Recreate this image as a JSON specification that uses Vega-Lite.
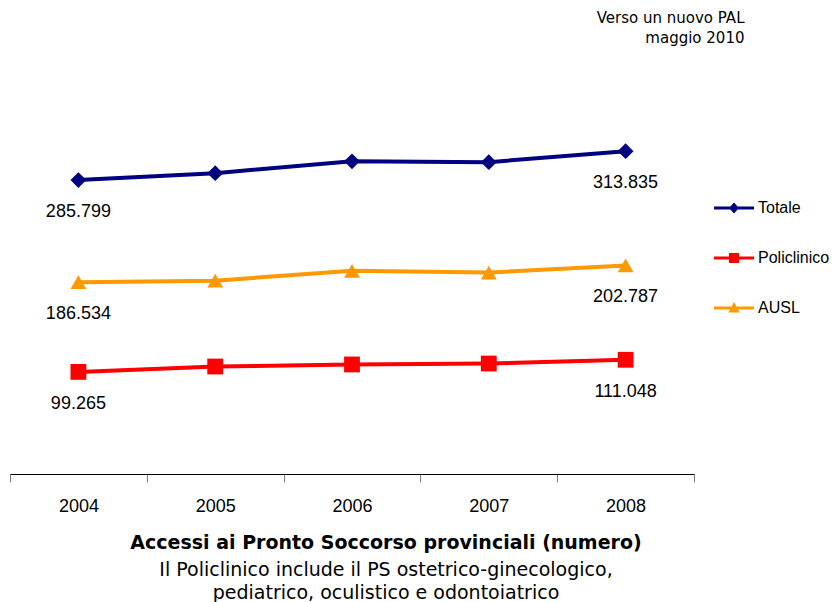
{
  "$schema": "https://vega.github.io/schema/vega-lite/v6.json",
  "width": 684,
  "height": 360,
  "autosize": {"type": "none"},
  "padding": {"left": 10, "top": 114, "right": 138, "bottom": 128},
  "background": "white",
  "title": {
    "text": "Accessi ai Pronto Soccorso provinciali (numero)",
    "subtitle": ["Il Policlinico include il PS ostetrico-ginecologico,", "pediatrico, oculistico e odontoiatrico"],
    "orient": "bottom",
    "anchor": "middle",
    "frame": "group",
    "dx": 34,
    "offset": 19,
    "font": "DejaVu Sans",
    "fontSize": 19,
    "fontWeight": "bold",
    "color": "black",
    "subtitleFont": "DejaVu Sans",
    "subtitleFontSize": 19,
    "subtitleFontWeight": "normal",
    "subtitleColor": "black",
    "subtitleLineHeight": 22.5,
    "subtitlePadding": 8
  },
  "data": {
    "values": [
      {"anno": "2004", "serie": "Totale", "valore": 285799},
      {"anno": "2005", "serie": "Totale", "valore": 292500},
      {"anno": "2006", "serie": "Totale", "valore": 304000},
      {"anno": "2007", "serie": "Totale", "valore": 303200},
      {"anno": "2008", "serie": "Totale", "valore": 313835},
      {"anno": "2004", "serie": "Policlinico", "valore": 99265},
      {"anno": "2005", "serie": "Policlinico", "valore": 104500},
      {"anno": "2006", "serie": "Policlinico", "valore": 106500},
      {"anno": "2007", "serie": "Policlinico", "valore": 107400},
      {"anno": "2008", "serie": "Policlinico", "valore": 111048},
      {"anno": "2004", "serie": "AUSL", "valore": 186534},
      {"anno": "2005", "serie": "AUSL", "valore": 188000},
      {"anno": "2006", "serie": "AUSL", "valore": 197500},
      {"anno": "2007", "serie": "AUSL", "valore": 195800},
      {"anno": "2008", "serie": "AUSL", "valore": 202787}
    ]
  },
  "encoding": {
    "x": {
      "field": "anno",
      "type": "ordinal",
      "scale": {"paddingInner": 0, "paddingOuter": 0},
      "axis": {
        "title": null,
        "labelAngle": 0,
        "labelFont": "Liberation Sans",
        "labelFontSize": 18,
        "labelColor": "black",
        "labelPadding": 15,
        "tickBand": "extent",
        "tickSize": 8,
        "tickColor": "#808080",
        "tickWidth": 1,
        "domainColor": "black",
        "domainWidth": 1,
        "grid": false
      }
    },
    "y": {
      "field": "valore",
      "type": "quantitative",
      "scale": {"domain": [0, 350000], "nice": false, "zero": true},
      "axis": {
        "title": ["Verso un nuovo PAL", "maggio 2010"],
        "titleAngle": 0,
        "titleAlign": "right",
        "titleBaseline": "alphabetic",
        "titleX": 734,
        "titleY": -92,
        "titleFont": "DejaVu Sans",
        "titleFontSize": 15,
        "titleFontWeight": "normal",
        "titleColor": "black",
        "titleLineHeight": 20,
        "labels": false,
        "ticks": false,
        "domain": false,
        "grid": false
      }
    },
    "color": {
      "field": "serie",
      "type": "nominal",
      "scale": {"domain": ["Totale", "Policlinico", "AUSL"], "range": ["#000080", "#FF0000", "#FF9900"]},
      "legend": {
        "title": null,
        "orient": "none",
        "legendX": 704,
        "legendY": 74,
        "padding": 0,
        "symbolSize": 1600,
        "symbolStrokeWidth": 0,
        "symbolOpacity": 1,
        "symbolOffset": 0,
        "labelOffset": 4,
        "labelFont": "Liberation Sans",
        "labelFontSize": 16,
        "labelColor": "black",
        "rowPadding": 22,
        "encode": {
          "symbols": {
            "update": {
              "shape": {"signal": "datum.value === 'Totale' ? 'M-1,-0.075L1,-0.075L1,0.075L-1,0.075Z M0,-0.28L0.25,0L0,0.28L-0.25,0Z' : datum.value === 'Policlinico' ? 'M-1,-0.075L1,-0.075L1,0.075L-1,0.075Z M-0.25,-0.25L0.25,-0.25L0.25,0.25L-0.25,0.25Z' : 'M-1,-0.075L1,-0.075L1,0.075L-1,0.075Z M0,-0.3L0.28,0.22L-0.28,0.22Z'"},
              "size": {"value": 1600},
              "opacity": {"value": 1}
            }
          }
        }
      }
    }
  },
  "layer": [
    {
      "mark": {"type": "line", "strokeWidth": 4}
    },
    {
      "mark": {"type": "point", "filled": true, "opacity": 1, "size": 250},
      "encoding": {
        "shape": {
          "condition": [
            {"test": "datum.serie === 'Totale'", "value": "diamond"},
            {"test": "datum.serie === 'Policlinico'", "value": "square"}
          ],
          "value": "triangle-up"
        }
      }
    },
    {
      "transform": [{"filter": "datum.anno === '2004' || datum.anno === '2008'"}],
      "mark": {"type": "text", "font": "Liberation Sans", "fontSize": 18, "baseline": "middle", "align": "center", "dy": 32},
      "encoding": {
        "text": {"field": "valore", "type": "quantitative", "format": ",d"},
        "color": {"value": "black"}
      }
    }
  ],
  "config": {
    "view": {"stroke": null},
    "locale": {"number": {"decimal": ",", "thousands": ".", "grouping": [3], "currency": ["", " €"]}}
  }
}
